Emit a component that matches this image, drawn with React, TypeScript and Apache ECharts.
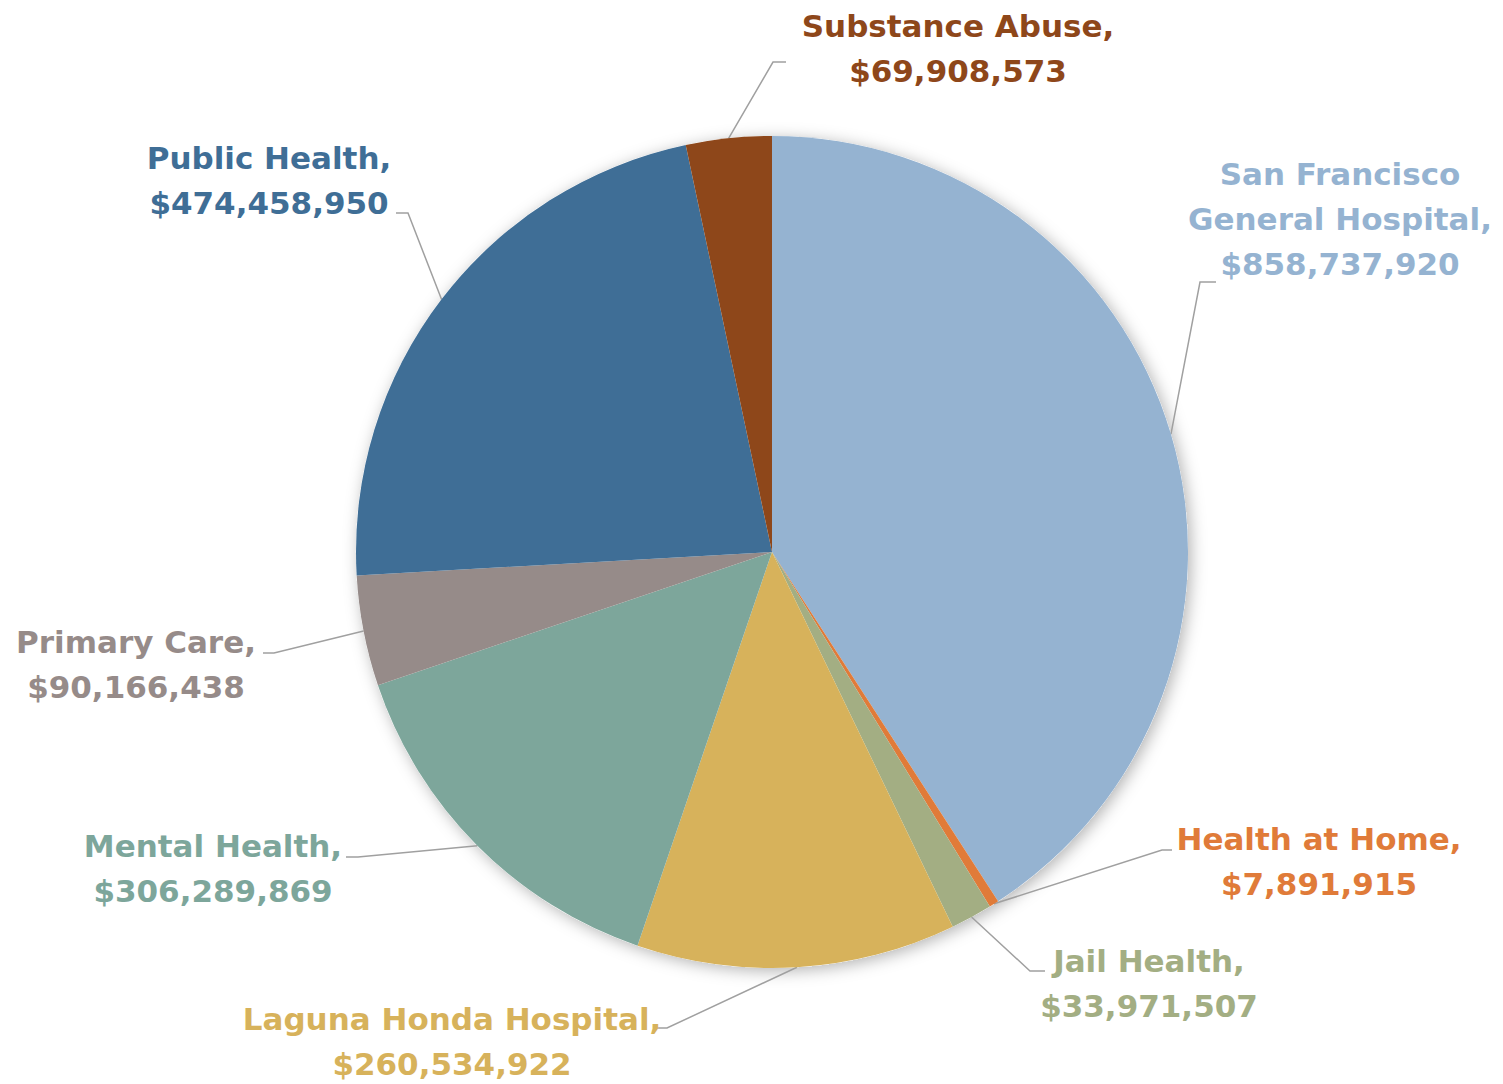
import React, { useEffect, useRef } from 'react';
import * as echarts from 'echarts';

const categories = [
  'San Francisco General Hospital',
  'Health at Home',
  'Jail Health',
  'Laguna Honda Hospital',
  'Mental Health',
  'Primary Care',
  'Public Health',
  'Substance Abuse',
];
const budgets = [858737920, 7891915, 33971507, 260534922, 306289869, 90166438, 474458950, 69908573];
const colors = ['#95B3D1', '#E07B39', '#A3AE83', '#D7B25B', '#7DA69B', '#968B89', '#3F6E96', '#8E471A'];

// label anchor (centre x, middle y), leader bend point and end point
const labelPlacement = [
  { x: 1340, y: 219, bend: [1200, 282], end: [1216, 282] },
  { x: 1319, y: 861, bend: [1162, 850], end: [1172, 850] },
  { x: 1149, y: 983, bend: [1030, 971], end: [1045, 971] },
  { x: 452, y: 1041, bend: [667, 1028], end: [657, 1028] },
  { x: 213, y: 868, bend: [358, 857], end: [346, 857] },
  { x: 136, y: 664, bend: [274, 653], end: [263, 653] },
  { x: 269, y: 180, bend: [408, 213], end: [396, 213] },
  { x: 958, y: 48, bend: [773, 62], end: [786, 62] },
];

const CENTER: [number, number] = [772, 552];
const RADIUS = 416;

function edgePoint(index: number): number[] {
  const total = budgets.reduce((a, b) => a + b, 0);
  let before = 0;
  for (let i = 0; i < index; i++) before += budgets[i];
  const mid = (before + budgets[index] / 2) / total;
  const ang = mid * Math.PI * 2;
  return [CENTER[0] + RADIUS * Math.sin(ang), CENTER[1] - RADIUS * Math.cos(ang)];
}

export default function App() {
  const ref = useRef<HTMLDivElement>(null);
  useEffect(() => {
    if (!ref.current) return;
    const chart = echarts.init(ref.current, null, { renderer: 'svg' });
    chart.setOption({
      animation: false,
      backgroundColor: '#ffffff',
      series: [
        {
          type: 'pie',
          silent: true,
          center: CENTER,
          radius: RADIUS,
          label: { show: false },
          labelLine: { show: false },
          itemStyle: {
            color: '#ffffff',
            shadowBlur: 16,
            shadowColor: 'rgba(0,0,0,0.3)',
            shadowOffsetX: 3,
            shadowOffsetY: 3,
          },
          data: [{ value: 1, name: '' }],
          z: 1,
        },
        {
          type: 'pie',
          center: CENTER,
          radius: RADIUS,
          startAngle: 90,
          clockwise: true,
          avoidLabelOverlap: false,
          z: 2,
          itemStyle: { borderWidth: 0 },
          label: {
            show: true,
            position: 'outer',
            color: 'inherit',
            fontFamily: 'DejaVu Sans',
            fontWeight: 'bold',
            fontSize: 31,
            lineHeight: 45,
            align: 'center',
            formatter: (p: any) =>
              `${String(p.name).replace('San Francisco ', 'San Francisco\n')},\n$${Number(p.value).toLocaleString('en-US')}`,
          },
          labelLine: {
            show: true,
            lineStyle: { color: '#A0A0A0', width: 1.5 },
          },
          labelLayout: (params: any) => {
            const i = params.dataIndex;
            const pl = labelPlacement[i];
            if (!pl) return {};
            const start = edgePoint(i);
            return {
              x: pl.x,
              y: pl.y,
              align: 'center',
              verticalAlign: 'middle',
              labelLinePoints: [start, pl.bend, pl.end],
            };
          },
          data: categories.map((c, i) => ({
            name: c,
            value: budgets[i],
            itemStyle: { color: colors[i] },
          })),
        },
      ],
    });
    return () => chart.dispose();
  }, []);
  return (
    <div
      ref={ref}
      style={{ position: 'fixed', left: 0, top: 0, width: 1503, height: 1084 }}
    />
  );
}
